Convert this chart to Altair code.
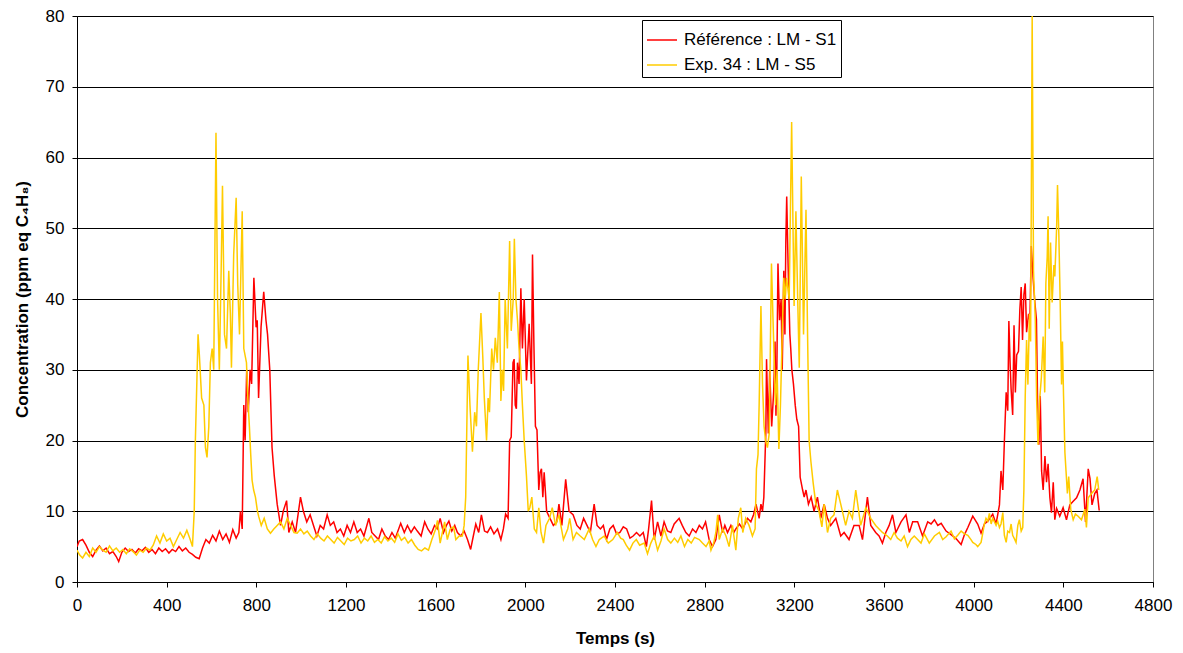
import altair as alt
import pandas as pd

# Référence : LM - S1 (red)
ref_t = [0, 10, 25, 40, 55, 70, 85, 100, 115, 130, 145, 160, 175, 186, 200, 215, 230, 245, 260, 275,
         290, 305, 320, 335, 350, 365, 380, 395, 410, 425, 440, 455, 470, 485, 500, 515, 530, 545, 560, 575,
         590, 605, 620, 635, 650, 665, 680, 695, 710, 722, 729, 737, 744, 750, 757, 764, 772, 779, 789, 799,
         804, 810, 821, 833, 843, 850, 860, 870, 880, 893, 908, 920, 935, 945, 960, 975, 997, 1010, 1025, 1040,
         1055, 1070, 1085, 1100, 1116, 1130, 1145, 1160, 1175, 1190, 1205, 1220, 1235, 1250, 1265, 1280, 1302, 1315, 1330, 1345,
         1360, 1375, 1390, 1405, 1420, 1444, 1460, 1474, 1490, 1505, 1518, 1535, 1551, 1565, 1580, 1595, 1607, 1620, 1635, 1648,
         1659, 1672, 1685, 1697, 1712, 1727, 1742, 1756, 1768, 1779, 1792, 1804, 1818, 1831, 1845, 1860, 1876, 1891, 1902, 1912,
         1923, 1930, 1937, 1945, 1950, 1955, 1960, 1965, 1972, 1980, 1987, 1995, 2005, 2017, 2027, 2032, 2038, 2045, 2052, 2060,
         2066, 2072, 2078, 2084, 2095, 2110, 2125, 2140, 2150, 2163, 2180, 2195, 2213, 2230, 2245, 2260, 2275, 2290, 2307, 2320,
         2335, 2348, 2362, 2377, 2392, 2407, 2422, 2437, 2452, 2467, 2481, 2496, 2511, 2526, 2540, 2550, 2563, 2575, 2590, 2605,
         2619, 2634, 2649, 2664, 2686, 2700, 2716, 2731, 2746, 2761, 2776, 2790, 2804, 2820, 2835, 2850, 2865, 2880, 2890, 2902,
         2917, 2930, 2939, 2955, 2970, 2991, 3006, 3018, 3029, 3043, 3051, 3058, 3064, 3073, 3076, 3084, 3090, 3099, 3108, 3114,
         3118, 3122, 3127, 3134, 3141, 3146, 3153, 3158, 3162, 3166, 3172, 3180, 3184, 3189, 3196, 3204, 3211, 3219, 3226, 3237,
         3244, 3252, 3263, 3275, 3288, 3303, 3318, 3333, 3348, 3362, 3385, 3407, 3422, 3444, 3466, 3489, 3504, 3526, 3541, 3563,
         3578, 3593, 3608, 3623, 3638, 3653, 3676, 3698, 3713, 3728, 3750, 3772, 3795, 3810, 3825, 3840, 3855, 3877, 3899, 3922,
         3944, 3959, 3974, 3996, 4018, 4033, 4048, 4063, 4085, 4100, 4115, 4122, 4130, 4137, 4145, 4152, 4157, 4163, 4167, 4174,
         4180, 4186, 4192, 4200, 4206, 4212, 4218, 4224, 4230, 4236, 4245, 4251, 4257, 4265, 4273, 4280, 4285, 4291, 4297, 4303,
         4310, 4318, 4325, 4332, 4340, 4347, 4355, 4362, 4370, 4384, 4399, 4414, 4429, 4444, 4459, 4474, 4488, 4499, 4511, 4519,
         4528, 4540, 4550, 4560]
ref_v = [5.0, 5.8, 6.0, 5.2, 4.2, 3.6, 4.5, 5.1, 4.4, 4.8, 4.0, 4.3, 3.6, 2.9, 4.2, 4.8, 4.3, 4.6, 4.1, 4.7,
         4.4, 4.9, 4.2, 4.6, 4.0, 4.8, 4.3, 4.7, 4.1, 4.6, 4.3, 5.0, 4.4, 4.8, 4.2, 3.9, 3.5, 3.3, 4.8, 6.0,
         5.5, 6.6, 5.8, 7.2, 6.0, 6.8, 5.6, 7.4, 6.2, 7.0, 10.0, 7.5, 25.0, 20.0, 30.0, 24.0, 30.0, 28.0, 43.0, 36.0,
         37.0, 26.0, 36.0, 41.0, 37.0, 35.0, 30.0, 19.0, 15.0, 11.0, 8.0, 10.0, 11.5, 7.0, 8.5, 7.0, 12.0, 10.0, 8.5, 9.5,
         8.0, 6.5, 8.0, 7.5, 9.5, 8.0, 8.5, 7.0, 7.5, 6.5, 8.0, 7.0, 8.5, 7.0, 7.5, 6.5, 9.0, 7.0, 6.5, 6.0,
         7.5, 6.5, 6.0, 7.0, 6.2, 8.3, 7.0, 8.0, 7.0, 7.8, 7.2, 6.5, 8.5, 7.5, 6.8, 8.0, 7.5, 9.0, 7.0, 8.0,
         8.6, 7.2, 8.0, 7.0, 6.5, 7.2, 6.0, 4.6, 6.5, 8.2, 7.0, 9.5, 7.2, 7.0, 7.8, 6.8, 7.5, 6.0, 7.5, 9.6,
         9.0, 20.0, 20.5, 31.0, 31.5, 25.0, 24.5, 31.0, 28.0, 41.5, 33.0, 40.0, 28.5, 36.5, 28.0, 46.3, 34.0, 22.0, 21.5, 13.0,
         15.5, 16.0, 12.0, 15.5, 10.0, 9.0, 8.0, 8.5, 11.0, 8.0, 14.5, 10.0, 9.5, 8.0, 7.5, 9.0, 8.0, 7.0, 11.0, 8.0,
         7.5, 8.0, 6.0, 7.5, 8.0, 6.8, 7.0, 7.8, 7.5, 6.2, 6.5, 7.0, 6.5, 7.0, 5.0, 7.5, 11.5, 6.0, 8.5, 6.5,
         8.5, 7.2, 7.0, 8.2, 9.0, 8.0, 7.0, 6.5, 7.5, 7.0, 8.0, 7.5, 8.5, 6.0, 5.0, 6.0, 9.5, 7.0, 8.0, 7.0,
         8.0, 7.0, 7.5, 8.2, 7.5, 9.0, 8.5, 9.5, 11.0, 9.0, 11.0, 10.0, 12.0, 21.4, 31.5, 21.0, 30.0, 22.0, 27.0, 34.0,
         23.5, 30.0, 45.0, 37.0, 40.0, 30.0, 44.0, 35.0, 48.0, 54.5, 45.0, 35.0, 33.0, 30.0, 28.0, 25.0, 23.0, 22.0, 14.8, 13.0,
         12.0, 13.0, 11.0, 12.0, 10.0, 12.0, 9.0, 11.0, 9.0, 8.0, 9.0, 6.5, 7.0, 6.0, 8.0, 8.0, 6.0, 12.0, 8.0, 7.0,
         6.5, 5.5, 7.0, 8.0, 9.5, 7.0, 8.5, 9.5, 7.0, 8.5, 8.5, 6.5, 8.5, 8.2, 8.8, 8.0, 8.3, 7.2, 6.7, 6.1,
         5.3, 6.7, 7.7, 9.3, 8.2, 6.9, 8.2, 8.6, 9.6, 8.2, 10.9, 15.7, 13.0, 19.9, 26.8, 24.2, 36.9, 30.5, 27.3, 23.6,
         36.3, 26.8, 32.1, 32.6, 38.5, 41.7, 34.2, 40.6, 42.2, 35.3, 37.9, 36.9, 47.5, 43.0, 39.5, 37.1, 25.7, 19.4, 26.3, 15.7,
         13.0, 17.8, 14.1, 16.7, 11.9, 9.8, 14.1, 8.8, 10.4, 9.3, 10.5, 8.8, 10.9, 11.4, 11.9, 13.0, 14.6, 8.5, 16.0, 14.6,
         10.9, 12.5, 13.0, 10.1]

# Exp. 34 : LM - S5 (yellow)
exp_t = [0, 12, 25, 40, 55, 70, 85, 100, 115, 130, 145, 160, 175, 190, 205, 220, 235, 250, 265, 280,
         295, 310, 325, 340, 355, 370, 385, 400, 415, 430, 445, 460, 475, 490, 505, 515, 523, 528, 540, 546,
         556, 566, 573, 580, 588, 595, 603, 610, 620, 627, 635, 643, 649, 658, 667, 677, 684, 689, 699, 710,
         717, 725, 737, 744, 756, 762, 769, 775, 781, 788, 796, 805, 811, 822, 835, 849, 863, 878, 893, 908,
         923, 938, 953, 968, 982, 997, 1012, 1027, 1042, 1057, 1072, 1087, 1102, 1117, 1132, 1147, 1162, 1177, 1192, 1207,
         1222, 1237, 1252, 1267, 1282, 1297, 1312, 1327, 1342, 1357, 1372, 1387, 1402, 1417, 1432, 1447, 1462, 1477, 1492, 1507,
         1522, 1537, 1552, 1568, 1583, 1600, 1608, 1620, 1630, 1640, 1652, 1665, 1680, 1690, 1705, 1719, 1727, 1734, 1744, 1753,
         1764, 1774, 1782, 1790, 1802, 1810, 1817, 1827, 1834, 1840, 1850, 1858, 1866, 1875, 1884, 1891, 1897, 1903, 1910, 1920,
         1930, 1937, 1946, 1951, 1958, 1965, 1972, 1980, 1987, 1995, 2005, 2013, 2020, 2029, 2040, 2050, 2060, 2070, 2081, 2092,
         2108, 2120, 2135, 2150, 2170, 2189, 2198, 2213, 2228, 2245, 2263, 2285, 2300, 2315, 2330, 2352, 2370, 2390, 2410, 2425,
         2437, 2450, 2465, 2480, 2495, 2510, 2530, 2545, 2560, 2575, 2590, 2605, 2619, 2635, 2649, 2665, 2680, 2694, 2710, 2725,
         2740, 2755, 2776, 2790, 2806, 2820, 2828, 2840, 2850, 2858, 2865, 2880, 2895, 2909, 2924, 2939, 2950, 2961, 2970, 2983,
         2998, 3013, 3025, 3031, 3038, 3043, 3051, 3058, 3065, 3072, 3080, 3088, 3098, 3105, 3116, 3123, 3131, 3138, 3146, 3153,
         3159, 3165, 3177, 3188, 3195, 3199, 3207, 3215, 3222, 3231, 3241, 3252, 3259, 3266, 3274, 3284, 3296, 3310, 3323, 3333,
         3348, 3362, 3377, 3392, 3407, 3429, 3444, 3459, 3474, 3496, 3519, 3541, 3563, 3578, 3593, 3615, 3630, 3645, 3660, 3676,
         3690, 3705, 3720, 3735, 3750, 3765, 3780, 3802, 3825, 3847, 3862, 3877, 3899, 3914, 3929, 3944, 3959, 3974, 3988, 3996,
         4010, 4018, 4033, 4040, 4048, 4055, 4063, 4070, 4078, 4085, 4100, 4107, 4115, 4122, 4130, 4137, 4145, 4152, 4160, 4167,
         4174, 4182, 4189, 4197, 4204, 4212, 4219, 4224, 4230, 4236, 4242, 4249, 4254, 4261, 4267, 4275, 4281, 4287, 4294, 4302,
         4310, 4317, 4322, 4328, 4332, 4337, 4343, 4350, 4358, 4362, 4370, 4374, 4380, 4386, 4392, 4396, 4401, 4407, 4412, 4418,
         4424, 4433, 4444, 4454, 4466, 4481, 4496, 4503, 4511, 4526, 4540, 4551, 4558]
exp_v = [4.5, 3.8, 3.4, 4.2, 3.6, 4.8, 4.2, 5.0, 4.5, 4.2, 5.1, 4.4, 4.8, 4.2, 4.6, 4.0, 4.7, 4.3, 3.8, 4.5,
         4.2, 4.8, 4.5, 5.2, 6.5, 5.5, 6.8, 5.8, 6.2, 5.0, 6.0, 7.0, 6.2, 7.3, 6.0, 5.0, 10.0, 20.0, 35.0, 32.0,
         26.0, 25.0, 19.0, 17.6, 22.0, 31.0, 33.0, 30.0, 63.5, 40.0, 30.0, 44.0, 56.0, 35.0, 33.0, 44.0, 38.0, 30.3, 46.3, 54.3,
         42.0, 35.0, 52.4, 33.0, 31.0, 26.0, 22.0, 18.0, 14.4, 13.0, 12.0, 10.0, 9.2, 8.0, 9.0, 7.5, 6.9, 7.5, 8.0, 8.5,
         7.5, 9.0, 8.0, 7.0, 6.9, 7.5, 6.8, 7.2, 6.5, 6.0, 6.8, 6.2, 5.8, 6.5, 6.0, 5.5, 6.3, 5.8, 5.3, 6.2,
         5.8, 6.0, 6.5, 5.5, 6.2, 5.8, 6.5, 5.6, 6.0, 5.5, 6.4, 5.8, 6.2, 5.6, 6.8, 5.9, 6.3, 5.5, 6.0, 5.2,
         4.6, 4.4, 4.8, 4.5, 6.0, 7.5, 8.7, 5.5, 7.0, 8.5, 6.0, 7.5, 7.8, 6.0, 6.5, 6.5, 8.0, 12.0, 32.0, 25.0,
         18.4, 24.0, 22.0, 30.0, 38.0, 32.0, 26.0, 20.0, 26.0, 24.0, 33.0, 30.0, 34.5, 31.0, 41.0, 25.6, 30.0, 27.0, 40.0, 33.0,
         48.2, 35.5, 40.0, 48.5, 40.0, 37.0, 33.0, 30.0, 25.0, 20.0, 15.0, 10.0, 10.5, 12.0, 7.5, 7.0, 10.5, 7.0, 5.5, 8.0,
         9.0, 10.5, 8.0, 9.5, 6.0, 7.5, 9.0, 6.0, 7.0, 6.5, 6.0, 7.5, 6.0, 5.0, 6.0, 6.5, 5.5, 6.0, 7.0, 6.2,
         6.0, 5.2, 4.5, 5.5, 6.0, 5.2, 5.5, 4.0, 5.5, 6.5, 4.5, 5.8, 7.5, 6.0, 5.5, 6.2, 5.6, 6.5, 5.0, 6.0,
         5.5, 6.3, 6.0, 5.5, 5.0, 5.8, 4.5, 5.5, 7.0, 9.5, 6.0, 7.5, 6.5, 5.0, 8.0, 4.5, 9.0, 10.5, 7.0, 9.0,
         8.0, 6.5, 7.5, 16.0, 18.0, 25.0, 39.0, 28.0, 22.0, 20.0, 19.0, 21.0, 45.0, 37.0, 25.0, 30.0, 18.8, 25.0, 35.0, 43.0,
         40.0, 43.0, 40.0, 65.0, 48.0, 39.0, 52.4, 40.0, 30.3, 57.3, 35.0, 52.6, 35.0, 20.0, 17.0, 14.0, 11.0, 10.0, 7.8, 11.0,
         7.0, 9.0, 9.5, 13.0, 11.0, 8.0, 10.0, 9.0, 13.0, 8.0, 10.5, 9.0, 8.0, 7.5, 7.0, 6.5, 6.0, 7.0, 6.2, 5.8,
         6.5, 5.0, 6.0, 6.5, 6.0, 5.5, 6.8, 5.5, 6.5, 7.0, 6.0, 6.4, 7.2, 6.1, 6.6, 7.2, 6.8, 6.6, 6.0, 5.6,
         5.3, 5.0, 5.6, 6.8, 8.2, 9.0, 8.6, 9.7, 8.2, 9.0, 8.0, 8.6, 7.7, 8.2, 9.8, 6.6, 5.6, 7.2, 7.0, 8.2,
         6.6, 6.1, 5.6, 8.0, 8.8, 7.2, 7.7, 13.0, 26.3, 34.2, 27.9, 37.9, 34.0, 80.0, 44.0, 36.9, 25.7, 19.4, 25.7, 28.9,
         34.7, 26.8, 42.2, 45.9, 51.7, 35.8, 48.0, 39.5, 44.8, 43.2, 50.0, 56.1, 49.0, 39.5, 27.9, 34.0, 26.3, 18.3, 15.7, 12.5,
         14.9, 10.3, 8.8, 9.6, 9.3, 8.8, 10.3, 7.7, 11.9, 12.5, 13.0, 14.9, 13.0]

series_names = ["Référence : LM - S1", "Exp. 34 : LM - S5"]
series_colors = ["#FF0000", "#FFCC00"]
x_ticks = list(range(0, 4801, 400))
y_ticks = list(range(0, 81, 10))

df = pd.concat([
    pd.DataFrame({"t": ref_t, "c": ref_v, "serie": series_names[0], "k": 0}),
    pd.DataFrame({"t": exp_t, "c": exp_v, "serie": series_names[1], "k": 1}),
], ignore_index=True)

FONT = "Liberation Sans"

x_enc = alt.X("t:Q", scale=alt.Scale(domain=[0, 4800], nice=False),
              axis=alt.Axis(values=x_ticks, format="d", title="Temps (s)", grid=False,
                            labelFontSize=17, titleFontSize=17, titleFontWeight="bold",
                            tickSize=5, labelPadding=10, titlePadding=17,
                            domainColor="black", tickColor="black", labelColor="black",
                            titleColor="black", labelFlush=False))
y_enc = alt.Y("c:Q", scale=alt.Scale(domain=[0, 80], nice=False),
              axis=alt.Axis(values=y_ticks, format="d", title="Concentration (ppm eq C₄H₈)",
                            grid=True, gridColor="black", gridWidth=1,
                            labelFontSize=17, titleFontSize=17, titleFontWeight="bold",
                            tickSize=5, labelPadding=8, titlePadding=14,
                            domainColor="black", tickColor="black", labelColor="black",
                            titleColor="black", labelFlush=False))
color_enc = alt.Color("serie:N", scale=alt.Scale(domain=series_names, range=series_colors),
                      legend=alt.Legend(title=None, orient="none", legendX=565, legendY=4,
                                        symbolType="stroke", symbolSize=900, symbolStrokeWidth=1.5,
                                        labelFontSize=17, labelColor="black", strokeColor="black",
                                        fillColor="white", padding=4, rowPadding=1, labelOffset=6))

base = alt.Chart(df).mark_line(strokeWidth=1.5, clip=True).encode(
    x=x_enc, y=y_enc, color=color_enc, detail="serie:N")

red = base.transform_filter("datum.k == 0")
yellow = base.transform_filter("datum.k == 1")

chart = alt.layer(red, yellow).properties(
    width=1076, height=566,
    autosize=alt.AutoSizeParams(type="none"),
    padding={"left": 69, "top": 8, "right": 22, "bottom": 70},
).configure(font=FONT).configure_view(stroke="#808080", strokeWidth=1)

chart.save("out.html", embed_options={"renderer": "svg", "actions": False})
